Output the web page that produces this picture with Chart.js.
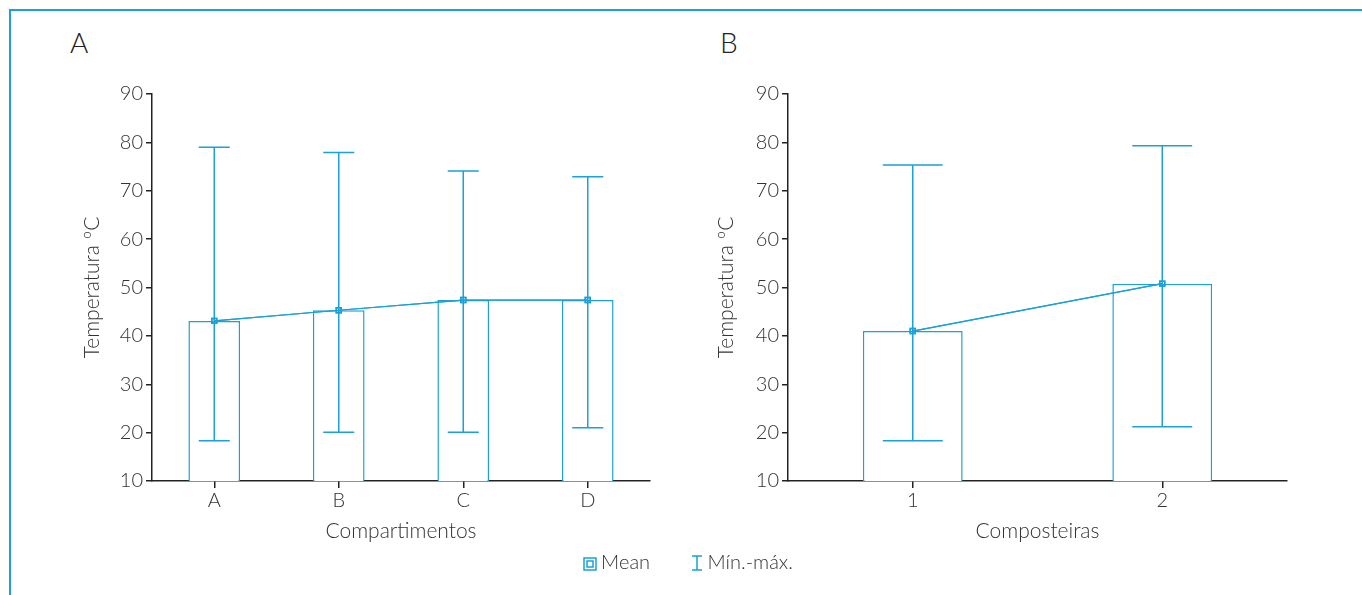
<!DOCTYPE html>
<html>
<head>
<meta charset="utf-8">
<script src="https://cdn.jsdelivr.net/npm/chart.js@4"></script>
<style>
  body { margin: 0; background: #fff; font-family: Lato, "Open Sans", sans-serif; }
  #frame { position: absolute; left: 9px; top: 9px; width: 1353px; height: 586px;
           border-top: 2px solid #1ba1d6; border-left: 2px solid #1ba1d6; }
  .panel { position: absolute; top: 0; height: 595px; }
  .letter { position: absolute; top: 25px; font-size: 28px; font-weight: 300; color: #222; }
  #legend { position: absolute; top: 546px; left: 0; width: 1362px; text-align: center;
            font-size: 20px; font-weight: 300; color: #333; padding-left: 14px; box-sizing: border-box; }
  #legend span { display: inline-block; margin: 0 17px; vertical-align: middle; }
  #legend svg { vertical-align: -2px; margin-right: 4px; }
</style>
</head>
<body>
<div id="frame"></div>
<div class="letter" style="left:70px">A</div>
<div class="letter" style="left:720px">B</div>
<div class="panel" style="left:0;width:680px"><canvas id="chartA"></canvas></div>
<div class="panel" style="left:680px;width:682px"><canvas id="chartB"></canvas></div>
<div id="legend">
  <span><svg width="14" height="14"><rect x="1" y="1" width="12" height="12" fill="none" stroke="#1ba1d6" stroke-width="1.5"/><rect x="4" y="4" width="6" height="6" fill="none" stroke="#1ba1d6" stroke-width="1.5"/></svg>Mean</span>
  <span><svg width="14" height="16"><path d="M2 1H12M7 1V15M2 15H12" fill="none" stroke="#1ba1d6" stroke-width="1.5"/></svg>Mín.-máx.</span>
</div>
<script>
const BLUE = "#1ba1d6";
const INK = "#333";

// Panel A
const compartimentos = ["A", "B", "C", "D"];
const meanA = [43.1, 45.3, 47.4, 47.4];
const minA = [18.3, 20.1, 20.1, 21.0];
const maxA = [79.0, 77.9, 74.1, 72.9];

// Panel B
const composteiras = ["1", "2"];
const meanB = [41.0, 50.8];
const minB = [18.3, 21.2];
const maxB = [75.3, 79.3];

const yTicks = [10, 20, 30, 40, 50, 60, 70, 80, 90];

const font = { family: "Lato, 'Open Sans', sans-serif", size: 20, weight: 300 };
const titleFont = { family: "Lato, 'Open Sans', sans-serif", size: 21, weight: 300 };

// min-max whiskers drawn from the arrays via the chart's scales
const rangePlugin = {
  id: "range",
  afterDatasetsDraw(chart, args, opts) {
    const { ctx, scales } = chart;
    const barMeta = chart.getDatasetMeta(0);
    ctx.save();
    ctx.strokeStyle = BLUE;
    ctx.lineWidth = 1.5;
    opts.mins.forEach((lo, i) => {
      const bar = barMeta.data[i];
      const x = scales.x.getPixelForValue(i);
      const half = bar.width * opts.cap / 2;
      const yLo = scales.y.getPixelForValue(lo);
      const yHi = scales.y.getPixelForValue(opts.maxs[i]);
      ctx.beginPath();
      ctx.moveTo(x, yLo); ctx.lineTo(x, yHi);
      ctx.moveTo(x - half, yLo); ctx.lineTo(x + half, yLo);
      ctx.moveTo(x - half, yHi); ctx.lineTo(x + half, yHi);
      ctx.stroke();
    });
    // redraw mean line on top of whiskers
    chart.getDatasetMeta(1).controller.draw();
    ctx.restore();
  }
};

function makeChart(id, labels, means, mins, maxs, xTitle, pad, yWidth, barPct) {
  return new Chart(document.getElementById(id), {
    data: {
      labels: labels,
      datasets: [
        {
          type: "bar",
          data: means,
          backgroundColor: "#fff",
          borderColor: BLUE,
          borderWidth: 1.5,
          barPercentage: barPct,
          categoryPercentage: 1,
          order: 2
        },
        {
          type: "line",
          data: means,
          borderColor: BLUE,
          borderWidth: 1.2,
          pointStyle: "rect",
          pointRadius: 3.5,
          pointBorderWidth: 1.5,
          pointBackgroundColor: "rgba(255,255,255,0)",
          pointBorderColor: BLUE,
          tension: 0,
          order: 1
        }
      ]
    },
    options: {
      responsive: true,
      maintainAspectRatio: false,
      animation: false,
      events: [],
      layout: { padding: pad },
      plugins: {
        legend: { display: false },
        tooltip: { enabled: false },
        range: { mins: mins, maxs: maxs, cap: 0.6 }
      },
      scales: {
        x: {
          offset: true,
          grid: { display: true, drawOnChartArea: false, offset: false, tickLength: 7, color: "#222", lineWidth: 1.5 },
          border: { color: "#222", width: 1.5 },
          ticks: { color: INK, font: font, padding: 1 },
          title: { display: true, text: xTitle, color: INK, font: titleFont, padding: 0 },
          afterFit(scale) { scale.height = 63; }
        },
        y: {
          min: 10,
          max: 90,
          afterBuildTicks(scale) { scale.ticks = yTicks.map(v => ({ value: v })); },
          grid: { display: true, drawOnChartArea: false, tickLength: 6, color: "#222", lineWidth: 1.5 },
          border: { color: "#222", width: 1.5 },
          ticks: { color: INK, font: font, padding: 3 },
          title: { display: true, text: "Temperatura ºC", color: INK, font: titleFont, padding: 0 },
          afterFit(scale) { scale.width = yWidth; }
        }
      }
    },
    plugins: [rangePlugin]
  });
}

makeChart("chartA", compartimentos, meanA, minA, maxA, "Compartimentos",
  { left: 80, right: 30, top: 94, bottom: 51 }, 72, 0.415);
makeChart("chartB", composteiras, meanB, minB, maxB, "Composteiras",
  { left: 34, right: 75, top: 94, bottom: 51 }, 74, 0.4);
</script>
</body>
</html>
